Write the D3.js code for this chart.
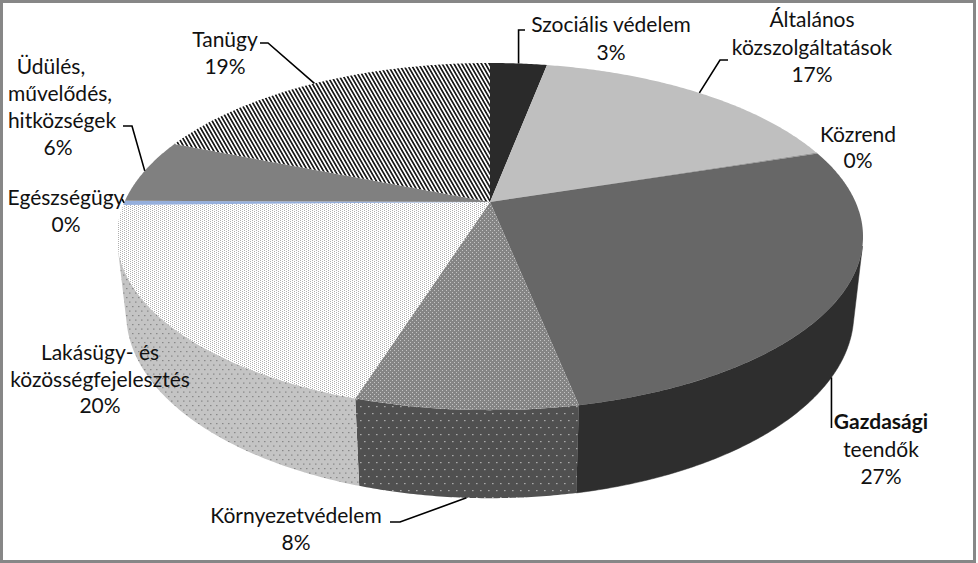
<!DOCTYPE html>
<html><head><meta charset="utf-8">
<script src="https://cdn.jsdelivr.net/npm/d3@7"></script>
<style>html,body{margin:0;padding:0;background:#fff;} svg{display:block}</style>
</head><body>
<svg id="chart" width="978" height="563"></svg>
<script>
// ---- data ----
const categories = ["Szociális védelem","Általános közszolgáltatások","Közrend","Gazdasági teendők","Környezetvédelem","Lakásügy- és közösségfejelesztés","Egészségügy","Üdülés, művelődés, hitközségek","Tanügy"];
const values = [3, 17, 0.1, 27, 8, 20, 0.4, 6, 19];
const labelLines = [["Szociális védelem"],["Általános","közszolgáltatások"],["Közrend"],["Gazdasági","teendők"],["Környezetvédelem"],["Lakásügy- és","közösségfejelesztés"],["Egészségügy"],["Üdülés,","művelődés,","hitközségek"],["Tanügy"]];

// ---- styles / layout ----
const topFill = ["#2a2a2a","#bfbfbf","#9a9a9a","#676767","url(#envTop)","url(#houseTop)","#95afdc","#808080","url(#stripes)"];
const wallFill = ["#1e1e1e","#9a9a9a","#777","#2e2e2e","url(#envWall)","url(#houseWall)","#7a90b8","#5a5a5a","#555"];
const labelLayout = [
  {x:611, y:32, dy:28},
  {x:812, y:27, dy:27.5},
  {x:858, y:142, dy:26},
  {x:881, y:429, dy:27.5, bold:true},
  {x:296, y:523, dy:27},
  {x:100, y:360, dy:26.5},
  {x:66, y:205, dy:27},
  {x:62, y:74, dy:27, lineDx:[-11,-2,0,-4]},
  {x:225, y:47, dy:26.5}
];
// leader: edge 0 = top rim, 1 = bottom rim; elbows (null x = same as start)
const leaderLayout = [
  {edge:0, elbows:[[null,30],[525,30]]},
  {edge:0, elbows:[[720,60],[728,60]]},
  null,
  {edge:1, elbows:[[null,428]]},
  {edge:1, elbows:[[400,522],[390,522]]},
  null,
  {edge:0, elbows:[[122,199]]},
  {edge:0, elbows:[[132,126],[123,126]]},
  {edge:0, elbows:[[268,43],[260,43]]}
];

const svg = d3.select("#chart");
const defs = svg.append("defs");
// patterns
const pStripes = defs.append("pattern").attr("id","stripes").attr("patternUnits","userSpaceOnUse")
  .attr("width",3.4).attr("height",10).attr("patternTransform","rotate(-30)");
pStripes.append("rect").attr("width",3.4).attr("height",10).attr("fill","#fff");
pStripes.append("rect").attr("width",1.7).attr("height",10).attr("fill","#1a1a1a");

const pEnvTop = defs.append("pattern").attr("id","envTop").attr("patternUnits","userSpaceOnUse").attr("width",4).attr("height",4);
pEnvTop.append("rect").attr("width",4).attr("height",4).attr("fill","#858585");
pEnvTop.append("rect").attr("x",0).attr("y",0).attr("width",1).attr("height",1).attr("fill","#c4c4c4");
pEnvTop.append("rect").attr("x",2).attr("y",2).attr("width",1).attr("height",1).attr("fill","#c4c4c4");

const pEnvWall = defs.append("pattern").attr("id","envWall").attr("patternUnits","userSpaceOnUse").attr("width",8).attr("height",14);
pEnvWall.append("rect").attr("width",8).attr("height",14).attr("fill","#505050");
pEnvWall.append("rect").attr("x",0).attr("y",0).attr("width",1.6).attr("height",1.2).attr("fill","#a8a8a8");
pEnvWall.append("rect").attr("x",4).attr("y",7).attr("width",1.6).attr("height",1.2).attr("fill","#a8a8a8");

const pHouseTop = defs.append("pattern").attr("id","houseTop").attr("patternUnits","userSpaceOnUse").attr("width",4).attr("height",2);
pHouseTop.append("rect").attr("width",4).attr("height",2).attr("fill","#ffffff");
pHouseTop.append("rect").attr("x",0).attr("y",0).attr("width",1).attr("height",1).attr("fill","#b0b0b0");
pHouseTop.append("rect").attr("x",2).attr("y",1).attr("width",1).attr("height",1).attr("fill","#b0b0b0");

const pHouseWall = defs.append("pattern").attr("id","houseWall").attr("patternUnits","userSpaceOnUse").attr("width",6).attr("height",9);
pHouseWall.append("rect").attr("width",6).attr("height",9).attr("fill","#c4c4c4");
pHouseWall.append("rect").attr("x",0).attr("y",0).attr("width",1.5).attr("height",1.2).attr("fill","#888");
pHouseWall.append("rect").attr("x",3).attr("y",4.5).attr("width",1.5).attr("height",1.2).attr("fill","#888");

// ---- 3D projection ----
const cam = {cx:490, cy:202, F:1634, D:4.47, alpha:Math.asin(0.456), depth:0.239};
const ca = Math.cos(cam.alpha), sa = Math.sin(cam.alpha);
function proj(theta, level){
  const X = Math.sin(theta), Z = Math.cos(theta), Y = -cam.depth*level;
  const dep = cam.D - Y*sa + Z*ca;
  const up = Y*ca + Z*sa;
  return [cam.cx + cam.F*X/dep, cam.cy - cam.F*up/dep];
}
function arcPts(a0, a1, level){
  const step = Math.PI/360;
  const n = Math.max(2, Math.ceil(Math.abs(a1-a0)/step));
  const s = d3.scaleLinear().domain([0,n]).range([a0,a1]);
  return d3.range(n+1).map(i => proj(s(i), level));
}
const line = d3.line();

const pie = d3.pie().sort(null).value(d=>d).startAngle(0).endAngle(2*Math.PI);
const arcs = pie(values);
const total = d3.sum(values);

// visible wall range
const visA = Math.acos(-1/(cam.D*ca));
const visB = 2*Math.PI - visA;

const gWalls = svg.append("g");
arcs.forEach((a,i)=>{
  const s = Math.max(a.startAngle, visA), e = Math.min(a.endAngle, visB);
  if (e <= s) return;
  const pts = arcPts(s,e,0).concat(arcPts(e,s,1));
  gWalls.append("path").attr("d", line(pts)+"Z").attr("fill", wallFill[i])
    .attr("stroke", wallFill[i].startsWith("url")? "none" : wallFill[i]).attr("stroke-width",0.5);
});

const gTop = svg.append("g");
arcs.forEach((a,i)=>{
  const pts = [[cam.cx,cam.cy]].concat(arcPts(a.startAngle, a.endAngle, 0));
  gTop.append("path").attr("d", line(pts)+"Z").attr("fill", topFill[i]);
});

// leaders
const gLead = svg.append("g").attr("fill","none").attr("stroke","#000").attr("stroke-width",1.6);
arcs.forEach((a,i)=>{
  const L = leaderLayout[i]; if(!L) return;
  const mid = (a.startAngle + a.endAngle)/2;
  const st = proj(mid, L.edge);
  const pts = [st].concat(L.elbows.map(p=>[p[0]===null? st[0] : p[0], p[1]]));
  gLead.append("path").attr("d", line(pts));
});

// labels
const gLab = svg.append("g").attr("font-family","Lato, 'Open Sans', sans-serif").attr("font-size",21).attr("fill","#111").attr("text-anchor","middle");
arcs.forEach((a,i)=>{
  const lay = labelLayout[i];
  const lines = labelLines[i].concat([Math.round(a.value/total*100)+"%"]);
  const t = gLab.append("text");
  lines.forEach((ln,j)=>{
    t.append("tspan").attr("x", lay.x + (lay.lineDx? lay.lineDx[j]:0)).attr("y", lay.y + j*lay.dy)
      .attr("font-weight", (lay.bold && j===0)? 700 : 400).text(ln);
  });
});

// border
svg.append("rect").attr("x",1.5).attr("y",1.5).attr("width",973).attr("height",560)
  .attr("fill","none").attr("stroke","#878787").attr("stroke-width",3);
</script>
</body></html>
